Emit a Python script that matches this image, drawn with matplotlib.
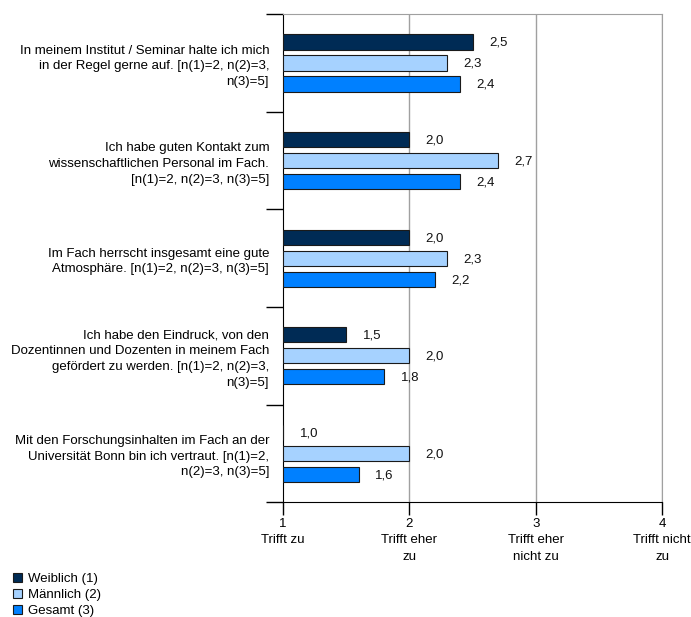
import matplotlib.pyplot as plt
from matplotlib.patches import Patch

plt.rcParams['font.family'] = ['Liberation Sans', 'DejaVu Sans']

categories = [
    "In meinem Institut / Seminar halte ich mich\nin der Regel gerne auf. [n(1)=2, n(2)=3,\nn(3)=5]",
    "Ich habe guten Kontakt zum\nwissenschaftlichen Personal im Fach.\n[n(1)=2, n(2)=3, n(3)=5]",
    "Im Fach herrscht insgesamt eine gute\nAtmosphäre. [n(1)=2, n(2)=3, n(3)=5]",
    "Ich habe den Eindruck, von den\nDozentinnen und Dozenten in meinem Fach\ngefördert zu werden. [n(1)=2, n(2)=3,\nn(3)=5]",
    "Mit den Forschungsinhalten im Fach an der\nUniversität Bonn bin ich vertraut. [n(1)=2,\nn(2)=3, n(3)=5]",
]
weiblich = [2.5, 2.0, 2.0, 1.5, 1.0]
maennlich = [2.3, 2.7, 2.3, 2.0, 2.0]
gesamt = [2.4, 2.4, 2.2, 1.8, 1.6]
series_names = ["Weiblich (1)", "Männlich (2)", "Gesamt (3)"]
colors = ["#002B55", "#A6D2FF", "#0080FF"]
xticks = [1, 2, 3, 4]
xtick_labels = ["1\nTrifft zu", "2\nTrifft eher\nzu", "3\nTrifft eher\nnicht zu", "4\nTrifft nicht\nzu"]

FS = 9.5

fig = plt.figure(figsize=(6.91, 6.17), dpi=100)
ax = fig.add_axes([0.4096, 0.186, 0.5485, 0.791])

offsets = [-0.215, 0.0, 0.215]
bar_h = 0.155
for s, (vals, col) in enumerate(zip([weiblich, maennlich, gesamt], colors)):
    for i, v in enumerate(vals):
        y = i + offsets[s]
        ax.barh(y, v - 1, left=1, height=bar_h, color=col,
                edgecolor="#1a1a1a", linewidth=0.8, zorder=3)
        ax.text(v + 0.13, y + 0.01, f"{v:.1f}".replace(".", ","),
                ha="left", va="center", fontsize=FS, color="#111111")

ax.set_xlim(1, 4)
ax.set_ylim(4.5, -0.5)

for x in [2, 3, 4]:
    ax.axvline(x, color="#A0A0A0", linewidth=1, zorder=1)

ax.set_xticks(xticks)
ax.set_xticklabels(xtick_labels, fontsize=FS, linespacing=1.5)
ax.tick_params(axis="x", direction="out", length=9, width=1, pad=2)

ax.set_yticks(range(len(categories)))
ax.set_yticklabels(categories, fontsize=FS, linespacing=1.4, ha="right")
ax.tick_params(axis="y", which="major", length=0, pad=10)
ax.set_yticks([i - 0.5 for i in range(len(categories) + 1)], minor=True)
ax.tick_params(axis="y", which="minor", direction="out", length=12, width=1)

ax.spines["left"].set_color("black")
ax.spines["bottom"].set_color("black")
ax.spines["top"].set_color("#A0A0A0")
ax.spines["right"].set_color("#A0A0A0")

handles = [Patch(facecolor=c, edgecolor="#1a1a1a", linewidth=0.8) for c in colors]
fig.legend(handles, series_names, loc="lower left", bbox_to_anchor=(0.005, -0.0155),
           frameon=False, fontsize=FS, handlelength=0.7, handleheight=0.7,
           handletextpad=0.45, labelspacing=0.28, borderpad=0.2)

fig.savefig("out.png", dpi=100)
